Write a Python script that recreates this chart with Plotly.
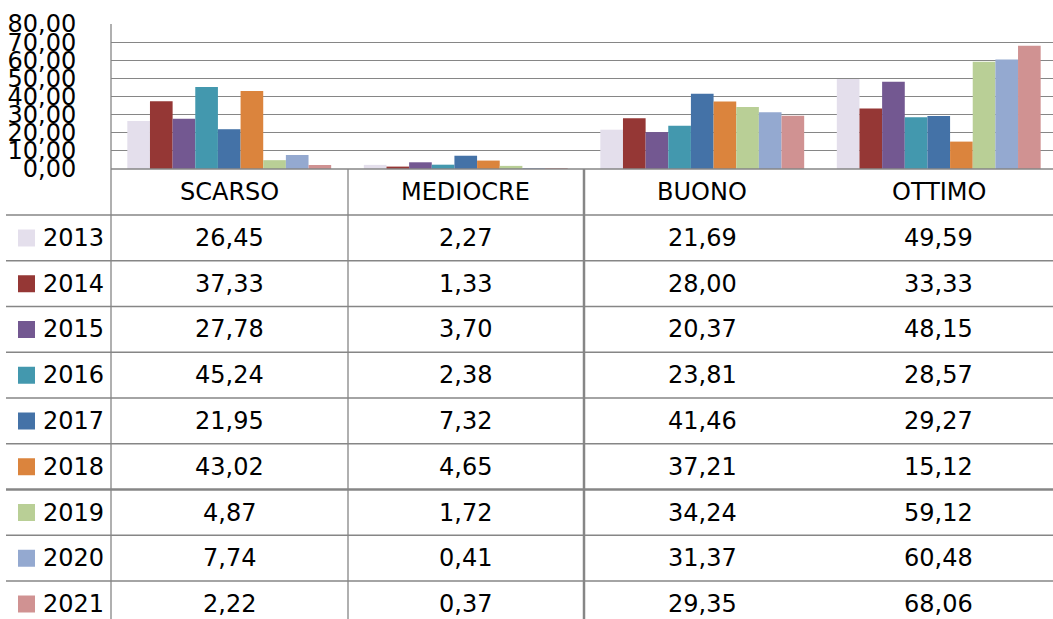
import plotly.graph_objects as go

categories = ["SCARSO", "MEDIOCRE", "BUONO", "OTTIMO"]
years = ["2013", "2014", "2015", "2016", "2017", "2018", "2019", "2020", "2021"]
v2013 = [26.45, 2.27, 21.69, 49.59]
v2014 = [37.33, 1.33, 28.00, 33.33]
v2015 = [27.78, 3.70, 20.37, 48.15]
v2016 = [45.24, 2.38, 23.81, 28.57]
v2017 = [21.95, 7.32, 41.46, 29.27]
v2018 = [43.02, 4.65, 37.21, 15.12]
v2019 = [4.87, 1.72, 34.24, 59.12]
v2020 = [7.74, 0.41, 31.37, 60.48]
v2021 = [2.22, 0.37, 29.35, 68.06]
series = [v2013, v2014, v2015, v2016, v2017, v2018, v2019, v2020, v2021]
colors = ["#E4DFEC", "#953735", "#735891", "#4398AE", "#4472A7",
          "#DB843D", "#B9CF96", "#94A9D0", "#D09292"]
y_ticks = [0, 10, 20, 30, 40, 50, 60, 70, 80]

W, H = 1053, 619
FONT = "DejaVu Sans"
GRID = "#868686"


def px(x):
    return x / W


def py(y):
    return 1 - y / H


xpos = list(range(len(categories)))
fig = go.Figure()
for yr, vals, c in zip(years, series, colors):
    fig.add_trace(go.Bar(x=xpos, y=vals, name=yr, marker=dict(color=c, line=dict(width=0)),
                         hoverinfo="name+y"))

plot_left, plot_top, axis_y = 111, 24, 169
cat_w = 236.5
x_right = -0.5 + (W - plot_left) / cat_w

shapes = []
annotations = []
# left vertical line
shapes.append(dict(type="line", xref="paper", yref="paper", x0=px(plot_left), x1=px(plot_left),
                   y0=py(plot_top), y1=py(H), line=dict(color=GRID, width=1.3)))
# axis line (table top)
shapes.append(dict(type="line", xref="paper", yref="paper", x0=px(plot_left), x1=1,
                   y0=py(axis_y), y1=py(axis_y), line=dict(color=GRID, width=1.3)))
# vertical lines in table
for i, xv in enumerate([348, 584]):
    shapes.append(dict(type="line", xref="paper", yref="paper", x0=px(xv), x1=px(xv),
                       y0=py(axis_y), y1=py(H), line=dict(color=GRID, width=1.3 if i == 0 else 2.5)))
# horizontal row lines
row_lines = [215 + 45.75 * k for k in range(9)]
for k, yv in enumerate(row_lines):
    shapes.append(dict(type="line", xref="paper", yref="paper", x0=px(6), x1=1,
                       y0=py(yv), y1=py(yv),
                       line=dict(color=GRID, width=2.5 if k == 6 else 1.3)))

# header
for i, c in enumerate(categories):
    annotations.append(dict(x=i, xref="x", y=py(192), yref="paper", text=c, showarrow=False,
                            font=dict(family=FONT, size=24, color="#000"),
                            xanchor="center", yanchor="middle"))
# rows
for r, (yr, vals, col) in enumerate(zip(years, series, colors)):
    yc = 215 + 45.75 * r + 23
    shapes.append(dict(type="rect", xref="paper", yref="paper", x0=px(18), x1=px(35),
                       y0=py(yc - 8.5), y1=py(yc + 8.5), fillcolor=col, line=dict(width=0)))
    annotations.append(dict(x=px(41), xref="paper", y=py(yc), yref="paper", text=yr,
                            showarrow=False, font=dict(family=FONT, size=24, color="#000"),
                            xanchor="left", yanchor="middle"))
    for i, v in enumerate(vals):
        annotations.append(dict(x=i, xref="x", y=py(yc), yref="paper",
                                text=f"{v:.2f}".replace(".", ","), showarrow=False,
                                font=dict(family=FONT, size=24, color="#000"),
                                xanchor="center", yanchor="middle"))

fig.update_layout(
    width=W, height=H, autosize=False,
    margin=dict(l=0, r=0, t=0, b=0, pad=0),
    paper_bgcolor="white", plot_bgcolor="white",
    barmode="group", bargap=0.138, bargroupgap=0,
    showlegend=False,
    separators=",.",
    xaxis=dict(domain=[px(plot_left), 1], range=[-0.5, x_right], showticklabels=False,
               showgrid=False, zeroline=False, showline=False, ticks="", automargin=False),
    yaxis=dict(domain=[py(axis_y), py(plot_top)], range=[0, 80], tickvals=y_ticks,
               tickformat=".2f", showgrid=True, gridcolor=GRID, gridwidth=1.3,
               zeroline=False, showline=False, ticks="outside", ticklen=0,
               ticklabelstandoff=29, automargin=False,
               tickfont=dict(family=FONT, size=24, color="#000")),
    shapes=shapes, annotations=annotations,
)

fig.write_html("out.html")
